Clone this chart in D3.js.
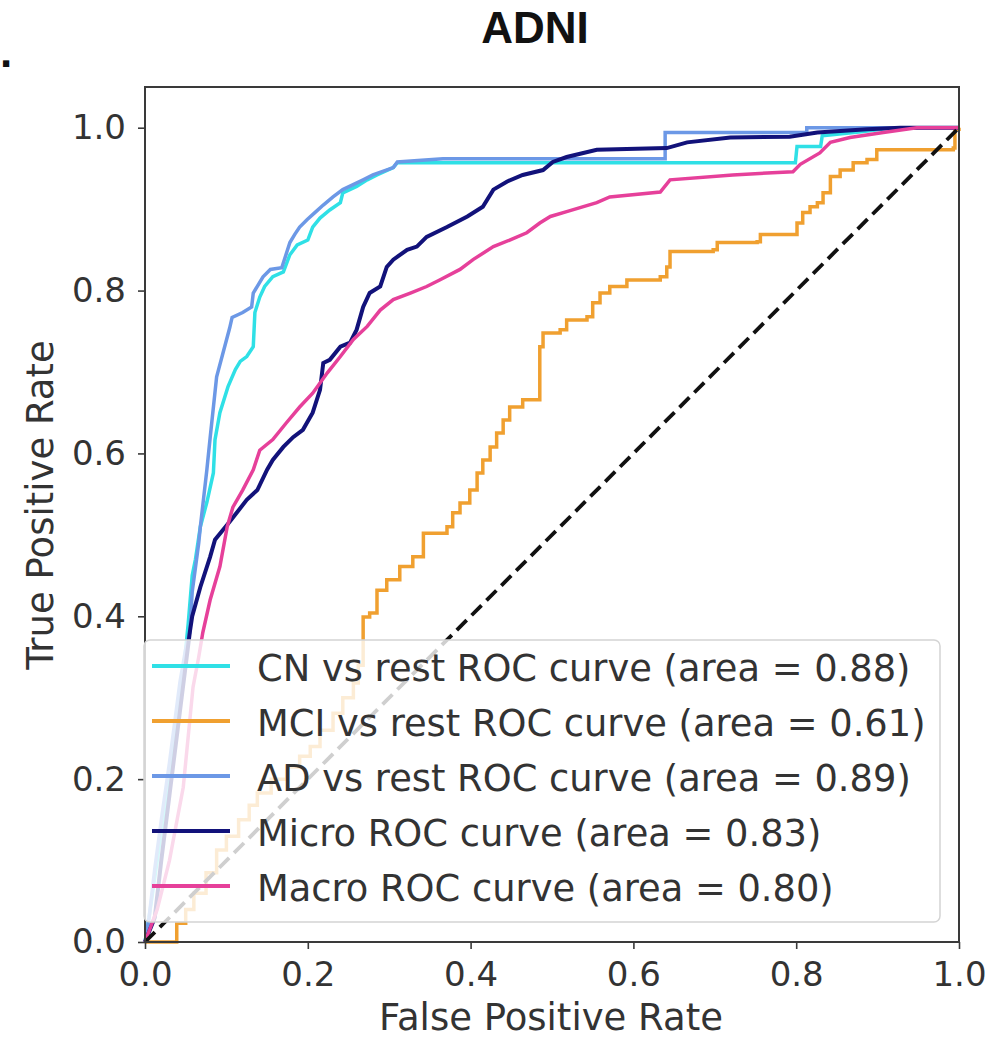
<!DOCTYPE html>
<html>
<head>
<meta charset="utf-8">
<script src="https://cdn.jsdelivr.net/npm/d3@7"></script>
<style>
  html, body { margin: 0; padding: 0; background: #ffffff; }
  svg { display: block; }
</style>
</head>
<body>
<svg id="chart" width="990" height="1044"></svg>
<script>
// ---------------- DATA ----------------
const chartTitle = "ADNI";
const xLabel = "False Positive Rate";
const yLabel = "True Positive Rate";
const xTicks = [0.0, 0.2, 0.4, 0.6, 0.8, 1.0];
const yTicks = [0.0, 0.2, 0.4, 0.6, 0.8, 1.0];

const seriesNames = ["CN vs rest ROC curve", "MCI vs rest ROC curve", "AD vs rest ROC curve", "Micro ROC curve", "Macro ROC curve"];
const seriesAUC = [0.88, 0.61, 0.89, 0.83, 0.80];

// [false positive rate, true positive rate]
const cnPoints = [
  [0,0],[0.005,0.03],[0.015,0.10],[0.025,0.17],[0.035,0.24],[0.045,0.31],[0.050,0.36],[0.053,0.39],
  [0.058,0.45],[0.062,0.47],[0.068,0.51],[0.076,0.54],[0.084,0.576],[0.086,0.617],[0.092,0.650],
  [0.102,0.682],[0.111,0.703],[0.117,0.713],[0.125,0.719],[0.133,0.731],[0.135,0.773],[0.141,0.792],
  [0.147,0.805],[0.157,0.817],[0.170,0.823],[0.178,0.844],[0.187,0.856],[0.200,0.862],[0.206,0.878],
  [0.215,0.889],[0.227,0.899],[0.240,0.908],[0.243,0.920],[0.260,0.928],[0.273,0.936],[0.285,0.942],
  [0.305,0.951],[0.310,0.957],[0.799,0.957],[0.801,0.977],[0.830,0.977],[0.832,0.990],[0.880,0.995],
  [0.920,1.0],[1,1]
];
const mciPoints = [
  [0,0],[0.039,0],[0.039,0.023],[0.050,0.040],[0.060,0.060],[0.075,0.085],[0.088,0.113],[0.100,0.130],
  [0.115,0.150],[0.128,0.168],[0.138,0.183],[0.155,0.200],[0.174,0.215],[0.190,0.228],[0.203,0.240],
  [0.215,0.260],[0.231,0.281],[0.243,0.300],[0.256,0.318],[0.262,0.340],[0.268,0.371],
  [0.268,0.399],[0.276,0.404],[0.285,0.432],[0.297,0.445],[0.313,0.461],
  [0.329,0.473],[0.342,0.502],[0.371,0.510],[0.378,0.527],[0.387,0.539],[0.399,0.555],[0.408,0.576],
  [0.415,0.592],[0.424,0.608],[0.432,0.625],[0.440,0.641],[0.448,0.657],[0.464,0.666],[0.485,0.670],
  [0.485,0.731],[0.489,0.748],[0.510,0.752],[0.518,0.764],[0.543,0.768],[0.550,0.785],[0.559,0.797],
  [0.571,0.805],[0.592,0.813],[0.633,0.817],[0.641,0.829],[0.645,0.848],[0.698,0.850],[0.703,0.859],
  [0.752,0.860],[0.756,0.869],[0.792,0.869],[0.801,0.883],[0.808,0.896],[0.817,0.903],[0.826,0.908],
  [0.833,0.920],[0.842,0.940],[0.854,0.948],[0.870,0.957],[0.887,0.961],[0.899,0.973],[0.993,0.975],
  [0.995,0.998],[1,1]
];
const adPoints = [
  [0,0],[0.005,0.03],[0.012,0.09],[0.020,0.15],[0.030,0.22],[0.043,0.32],[0.050,0.36],[0.055,0.38],
  [0.058,0.43],[0.062,0.46],[0.066,0.49],[0.068,0.51],[0.076,0.58],[0.080,0.619],[0.088,0.694],
  [0.104,0.754],[0.107,0.767],[0.120,0.773],[0.131,0.780],[0.133,0.797],[0.145,0.817],[0.154,0.826],
  [0.168,0.828],[0.178,0.859],[0.184,0.869],[0.190,0.878],[0.199,0.887],[0.209,0.896],[0.219,0.905],
  [0.231,0.915],[0.243,0.924],[0.268,0.936],[0.280,0.942],[0.305,0.951],[0.310,0.958],[0.366,0.962],
  [0.639,0.962],[0.639,0.994],[0.813,0.994],[0.813,1.0],[1,1]
];
const microPoints = [
  [0,0],[0.012,0.03],[0.020,0.10],[0.030,0.18],[0.040,0.26],[0.050,0.34],[0.055,0.38],[0.058,0.40],
  [0.068,0.436],[0.080,0.473],[0.086,0.494],[0.104,0.516],[0.125,0.543],[0.138,0.555],[0.150,0.580],
  [0.157,0.592],[0.170,0.608],[0.182,0.620],[0.194,0.629],[0.206,0.650],[0.215,0.678],[0.219,0.711],
  [0.227,0.715],[0.240,0.731],[0.252,0.736],[0.260,0.752],[0.268,0.780],[0.276,0.797],[0.289,0.805],
  [0.297,0.829],[0.305,0.838],[0.322,0.850],[0.334,0.854],[0.346,0.866],[0.371,0.878],[0.396,0.891],
  [0.415,0.903],[0.428,0.924],[0.445,0.934],[0.464,0.942],[0.489,0.948],[0.501,0.958],[0.518,0.964],
  [0.555,0.973],[0.641,0.975],[0.666,0.982],[0.719,0.988],[0.792,0.989],[0.826,0.994],[0.887,0.998],
  [0.928,1.0],[1,1]
];
const macroPoints = [
  [0,0],[0.015,0.04],[0.030,0.10],[0.047,0.19],[0.059,0.313],[0.066,0.35],[0.071,0.380],[0.080,0.420],
  [0.092,0.461],[0.101,0.510],[0.108,0.534],[0.120,0.555],[0.133,0.580],[0.141,0.604],[0.157,0.617],
  [0.174,0.638],[0.190,0.657],[0.206,0.674],[0.224,0.699],[0.240,0.719],[0.256,0.740],[0.273,0.756],
  [0.289,0.776],[0.305,0.789],[0.326,0.797],[0.346,0.805],[0.362,0.813],[0.387,0.826],[0.403,0.838],
  [0.428,0.854],[0.448,0.862],[0.469,0.871],[0.485,0.883],[0.498,0.891],[0.518,0.897],[0.555,0.908],
  [0.571,0.915],[0.633,0.921],[0.645,0.936],[0.722,0.942],[0.796,0.946],[0.805,0.955],[0.829,0.969],
  [0.842,0.982],[0.866,0.988],[0.907,0.994],[0.948,1.0],[1,1]
];
const chancePoints = [[0,0],[1,1]];

// ---------------- STYLE / LAYOUT ----------------
const seriesData = [cnPoints, mciPoints, adPoints, microPoints, macroPoints];
const seriesColors = ["#2fe0e6", "#f0a030", "#6c98e6", "#12127a", "#e6409a"];
const seriesCurves = [d3.curveLinear, d3.curveStepAfter, d3.curveLinear, d3.curveLinear, d3.curveLinear];
const FONT = "'DejaVu Sans', sans-serif";

const svg = d3.select("#chart");
const x = d3.scaleLinear().domain([0, 1]).range([145, 959]);
const y = d3.scaleLinear().domain([0, 1.05]).range([942, 87]);

// curves
const line = d3.line().x(d => x(d[0])).y(d => y(d[1]));
const curves = svg.append("g");
seriesData.forEach((pts, i) => {
  curves.append("path")
    .attr("d", line.curve(seriesCurves[i])(pts))
    .attr("fill", "none")
    .attr("stroke", seriesColors[i])
    .attr("stroke-width", i === 3 ? 4 : 3.5)
    .attr("stroke-linejoin", "miter");
});
// chance diagonal
svg.append("path")
  .attr("d", line.curve(d3.curveLinear)(chancePoints))
  .attr("fill", "none")
  .attr("stroke", "#111")
  .attr("stroke-width", 3.8)
  .attr("stroke-dasharray", "14,7");

// frame
svg.append("rect")
  .attr("x", x(0)).attr("y", y(1.05))
  .attr("width", x(1) - x(0)).attr("height", y(0) - y(1.05))
  .attr("fill", "none").attr("stroke", "#3a3a3a").attr("stroke-width", 2);

// axes
const xAxis = d3.axisBottom(x).tickValues(xTicks).tickFormat(d3.format(".1f"))
  .tickSize(7).tickPadding(13).tickSizeOuter(0);
const yAxis = d3.axisLeft(y).tickValues(yTicks).tickFormat(d3.format(".1f"))
  .tickSize(7).tickPadding(12).tickSizeOuter(0);

const gx = svg.append("g").attr("transform", `translate(0,${y(0)})`).call(xAxis);
const gy = svg.append("g").attr("transform", `translate(${x(0)},0)`).call(yAxis);
[gx, gy].forEach(g => {
  g.select(".domain").remove();
  g.selectAll(".tick line").attr("stroke", "#3a3a3a").attr("stroke-width", 1.6);
  g.selectAll(".tick text").attr("fill", "#333").style("font-family", FONT).style("font-size", "34px");
});

// axis labels
svg.append("text")
  .attr("x", 551).attr("y", 1030)
  .attr("text-anchor", "middle")
  .style("font-family", FONT).style("font-size", "37px").attr("fill", "#333")
  .text(xLabel);
svg.append("text")
  .attr("transform", "translate(53,505) rotate(-90)")
  .attr("text-anchor", "middle")
  .style("font-family", FONT).style("font-size", "37px").attr("fill", "#333")
  .text(yLabel);

// title
svg.append("text")
  .attr("x", 535).attr("y", 43)
  .attr("text-anchor", "middle")
  .style("font-family", "'Liberation Sans', Arial, sans-serif").style("font-size", "44px")
  .style("font-weight", "bold").attr("fill", "#111")
  .text(chartTitle);
// panel-letter fragment at far left
svg.append("text")
  .attr("x", 0).attr("y", 67)
  .style("font-family", "'Liberation Sans', Arial, sans-serif").style("font-size", "44px")
  .style("font-weight", "bold").attr("fill", "#111")
  .text(".");

// legend
const legend = svg.append("g");
legend.append("rect")
  .attr("x", 144).attr("y", 640).attr("width", 796).attr("height", 282)
  .attr("rx", 6).attr("ry", 6)
  .attr("fill", "#ffffff").attr("fill-opacity", 0.8)
  .attr("stroke", "#d4d4d4").attr("stroke-width", 1.5);
seriesNames.forEach((name, i) => {
  const cy = 666 + i * 55;
  legend.append("line")
    .attr("x1", 152).attr("x2", 230).attr("y1", cy).attr("y2", cy)
    .attr("stroke", seriesColors[i]).attr("stroke-width", 4);
  legend.append("text")
    .attr("x", 257).attr("y", cy + 15)
    .style("font-family", FONT).style("font-size", "36.8px").attr("fill", "#333")
    .text(`${name} (area = ${seriesAUC[i].toFixed(2)})`);
});
</script>
</body>
</html>
